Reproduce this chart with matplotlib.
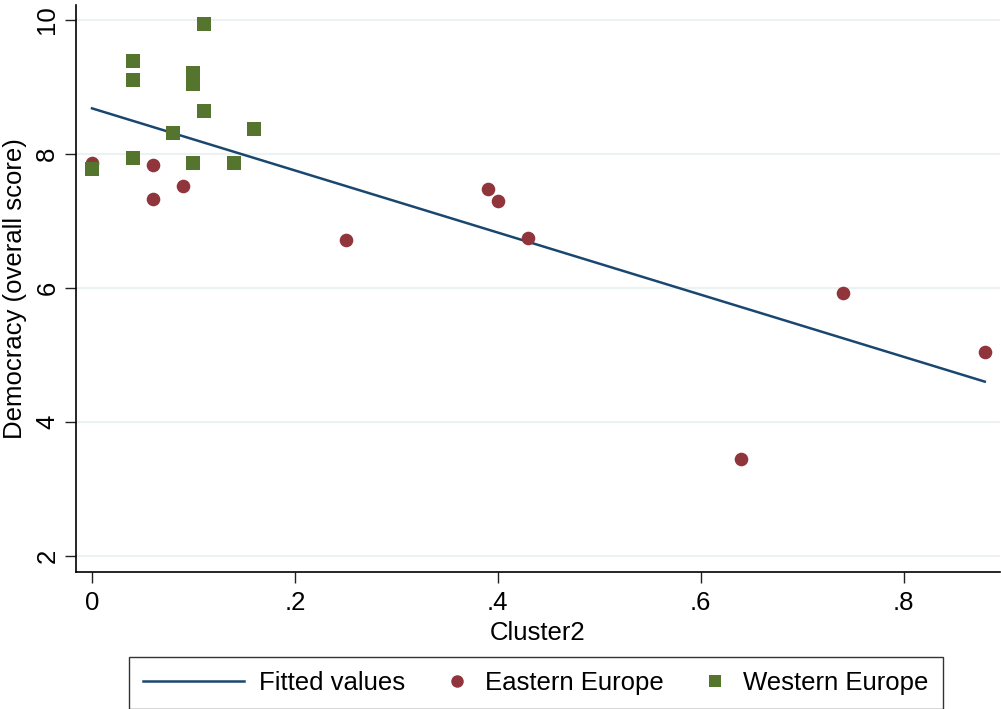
import numpy as np
import matplotlib.pyplot as plt
from matplotlib.lines import Line2D
from matplotlib.legend_handler import HandlerLine2D

plt.rcParams['font.family'] = ['Liberation Sans', 'DejaVu Sans']

# Eastern Europe
east_x = [0.00, 0.06, 0.06, 0.09, 0.25, 0.39, 0.40, 0.43, 0.64, 0.74, 0.88]
east_y = [7.86, 7.83, 7.32, 7.52, 6.72, 7.48, 7.29, 6.75, 3.44, 5.93, 5.04]

# Western Europe
west_x = [0.00, 0.04, 0.04, 0.04, 0.08, 0.10, 0.10, 0.10, 0.11, 0.11, 0.14, 0.16]
west_y = [7.78, 9.39, 9.10, 7.93, 8.31, 9.20, 9.04, 7.86, 9.94, 8.64, 7.87, 8.37]

x_ticks = [0, 0.2, 0.4, 0.6, 0.8]
x_labels = ['0', '.2', '.4', '.6', '.8']
y_ticks = [2, 4, 6, 8, 10]

red = '#90353B'
green = '#55752F'
navy = '#1A476F'

all_x = np.array(east_x + west_x)
all_y = np.array(east_y + west_y)
slope, icpt = np.polyfit(all_x, all_y, 1)
fx = np.array([all_x.min(), all_x.max()])
fy = icpt + slope * fx


# long legend key for the fitted line only
class LongLine(HandlerLine2D):
    def legend_artist(self, legend, orig_handle, fontsize, handlebox):
        handlebox.width = handlebox.width * 3.9
        return super().legend_artist(legend, orig_handle, fontsize, handlebox)


fig = plt.figure(figsize=(10.01, 7.09), dpi=100)
ax = fig.add_axes([76 / 1001, 1 - 572 / 709, (1000 - 76) / 1001, (572 - 5) / 709])

for t in y_ticks:
    ax.axhline(t, color='#EAF2F3', lw=1.5, zorder=0)

ax.plot(fx, fy, color=navy, lw=1.8, zorder=2)
ax.plot(east_x, east_y, 'o', color=red, ms=9.8, mew=0, zorder=3)
ax.plot(west_x, west_y, 's', color=green, ms=9.6, mew=0, zorder=3)

ax.set_xlim(-0.0158, 0.895)
ax.set_ylim(1.76, 10.22)
ax.set_xticks(x_ticks)
ax.set_xticklabels(x_labels)
ax.set_yticks(y_ticks)
ax.set_yticklabels([str(t) for t in y_ticks], rotation=90, va='center')
ax.tick_params(labelsize=18.5, length=8, width=1, color='#222222')
ax.tick_params(axis='x', pad=6)
ax.tick_params(axis='y', pad=4)
for s in ['top', 'right']:
    ax.spines[s].set_visible(False)
for s in ['left', 'bottom']:
    ax.spines[s].set_linewidth(1.2)
ax.set_xlabel('Cluster2', fontsize=18.5, labelpad=4)
ax.set_ylabel('Democracy (overall score)', fontsize=18.5, labelpad=6)

fit_handle = Line2D([], [], color=navy, lw=1.8)
handles = [
    fit_handle,
    Line2D([], [], marker='o', ls='none', color=red, ms=9, mew=0),
    Line2D([], [], marker='s', ls='none', color=green, ms=8.5, mew=0),
]
leg = fig.legend(handles, ['Fitted values', 'Eastern Europe', 'Western Europe'],
                 loc='center', bbox_to_anchor=(0.5355, 0.0367), ncol=3,
                 fontsize=18.5, frameon=True, fancybox=False, edgecolor='black',
                 handlelength=1.0, handletextpad=0.6, columnspacing=1.5,
                 borderpad=0.55, handler_map={fit_handle: LongLine()})
leg.get_frame().set_linewidth(1.0)

fig.savefig('out.png', dpi=100)
